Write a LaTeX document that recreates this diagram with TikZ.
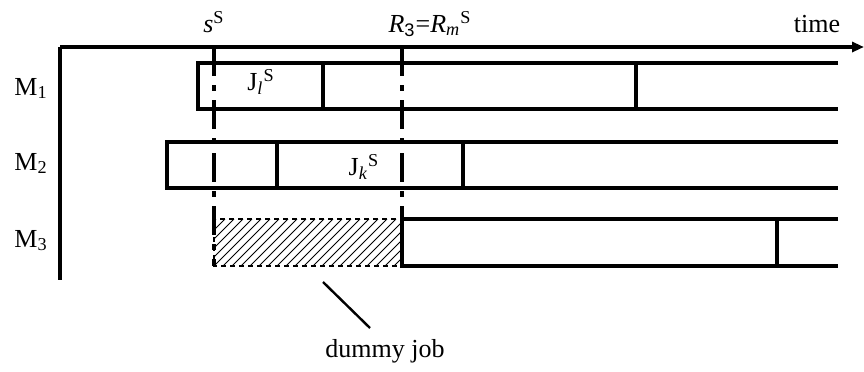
\documentclass[tikz,border=0pt]{standalone}
\usepackage{fontspec}
\setmainfont{Liberation Serif}
\newfontfamily\arialfont{Liberation Sans}
\usepackage{tikz}
\usetikzlibrary{arrows.meta}

\begin{document}
\begin{tikzpicture}[
  x=0.5pt, y=-0.5pt,
  every node/.style={font=\fontsize{13}{15}\selectfont, inner sep=0pt},
  axis/.style={line width=1.6pt, -{Triangle[length=6pt,width=5pt]}},
  job/.style={line width=1.6pt},
  cut/.style={line width=1.6pt, dash pattern=on 14.5pt off 4.5pt on 3pt off 4.5pt},
  dummy/.style={line width=1.3pt, dash pattern=on 2.5pt off 2pt},
  hatch/.style={line width=0.5pt},
  pointer/.style={line width=1.2pt}
]
\useasboundingbox (0,0) rectangle (864,371);

% Ejes
\coordinate (orig) at (60,47);
\coordinate (tend) at (864,47);
\coordinate (vend) at (60,280);
\draw[axis] (orig) -- (tend);
\draw[job] (orig) -- (vend);
\node[anchor=base] (time) at (817,32) {time};

% Maquinas
\foreach \m/\y in {1/95, 2/170, 3/247}
  \node[anchor=base] (M\m) at (31,\y) {M\textsubscript{\m}};

% M1 y M2
\foreach \yt/\yb/\xl/\xa/\xb in {63/109/198/323/636, 142/188/167/277/463} {
  \draw[job] (838,\yt) -- (\xl,\yt) -- (\xl,\yb) -- (838,\yb);
  \draw[job] (\xa,\yt) -- (\xa,\yb);
  \draw[job] (\xb,\yt) -- (\xb,\yb);
}
\node[anchor=base] (Jl) at (261,90) {J\textsubscript{\textit{l}}\textsuperscript{S}};
\node[anchor=base] (Jk) at (364,175) {J\textsubscript{\textit{k}}\textsuperscript{S}};

% M3
\draw[job] (838,219) -- (402,219) -- (402,266) -- (838,266);
\draw[job] (777,219) -- (777,266);
\begin{scope}
  \clip (214,219) rectangle (402,266);
  \foreach \h in {160,169,...,410}
    \draw[hatch] (\h,266) -- ++(47,-47);
\end{scope}
\draw[dummy] (214,219) rectangle (402,266);

% Cortes
\draw[cut] (214,47) -- (214,266);
\draw[cut] (402,47) -- (402,266);
\node[anchor=base] (sS) at (214,32) {\textit{s}\textsuperscript{S}};
\node[anchor=base] (R3) at (430,32) {\textit{R}\textsubscript{\arialfont 3}=\textit{R\textsubscript{m}}\textsuperscript{S}};

% Dummy job
\node[anchor=base] (djob) at (385,357) {dummy job};
\coordinate (pa) at (323,282);
\coordinate (pb) at (370,328);
\draw[pointer] (pa) -- (pb);
\end{tikzpicture}
\end{document}
